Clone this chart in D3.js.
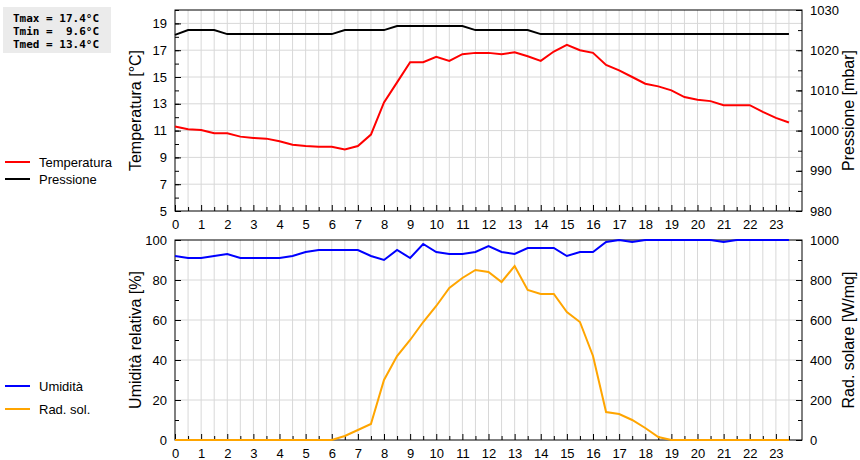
<!DOCTYPE html><html><head><meta charset="utf-8"><script src="https://cdn.jsdelivr.net/npm/d3@7"></script>
<style>body{margin:0;background:#fff}svg{font-family:"Liberation Sans",Arial,sans-serif}</style></head><body><svg id="c" width="860" height="460"></svg>
<script>
const hours = d3.range(0, 24, 0.5);
const temperatura = [11.3,11.1,11.05,10.8,10.8,10.55,10.45,10.4,10.2,9.95,9.85,9.8,9.8,9.6,9.85,10.7,13.1,14.6,16.1,16.1,16.5,16.2,16.7,16.8,16.8,16.7,16.85,16.55,16.2,16.9,17.4,17.0,16.8,15.9,15.5,15.0,14.5,14.3,14.0,13.5,13.3,13.2,12.9,12.9,12.9,12.4,11.95,11.6];
const pressione = [1023.8,1025,1025,1025,1024,1024,1024,1024,1024,1024,1024,1024,1024,1025,1025,1025,1025,1026,1026,1026,1026,1026,1026,1025,1025,1025,1025,1025,1024,1024,1024,1024,1024,1024,1024,1024,1024,1024,1024,1024,1024,1024,1024,1024,1024,1024,1024,1024];
const umidita = [92,91,91,92,93,91,91,91,91,92,94,95,95,95,95,92,90,95,91,98,94,93,93,94,97,94,93,96,96,96,92,94,94,99,100,99,100,100,100,100,100,100,99,100,100,100,100,100];
const radsol = [0,0,0,0,0,0,0,0,0,0,0,0,0,20,50,80,300,420,500,590,670,760,810,850,840,790,870,750,730,730,640,590,420,140,130,100,60,15,0,0,0,0,0,0,0,0,0,0];
const tempTicks = [5,7,9,11,13,15,17,19];
const pressTicks = [980,990,1000,1010,1020,1030];
const humTicks = [0,20,40,60,80,100];
const radTicks = [0,200,400,600,800,1000];
const stats = ["Tmax = 17.4°C","Tmin =  9.6°C","Tmed = 13.4°C"];

const svg = d3.select("#c");
const L=175, R=802;
const x = d3.scaleLinear().domain([0,24]).range([L,R]);
const xTicks = d3.range(0,24);
const xMinor = d3.range(0,24.01,0.5);

function panel(y0,y1,lDom,rDom,lTicks,rTicks,lMinor,rMinor,lLabel,rLabel,series){
  const yl=d3.scaleLinear().domain(lDom).range([y1,y0]);
  const yr=d3.scaleLinear().domain(rDom).range([y1,y0]);
  const g=svg.append("g");
  g.selectAll(".vg").data(xMinor.slice(1,-1)).join("line").attr("x1",x).attr("x2",x).attr("y1",y0).attr("y2",y1).attr("stroke","#d8d8d8");
  g.selectAll(".hg").data(lTicks.filter(t=>t!==lDom[0]&&t!==lDom[1])).join("line").attr("x1",L).attr("x2",R).attr("y1",yl).attr("y2",yl).attr("stroke","#d8d8d8");
  g.append("g").attr("transform",`translate(0,${y1})`).call(d3.axisBottom(x).tickValues(xTicks).tickSize(6).tickFormat(d3.format("d"))).call(a=>{a.select(".domain").remove();a.selectAll(".tick line").attr("y1",-6).attr("y2",0);});
  g.append("g").attr("transform",`translate(0,${y1})`).call(d3.axisBottom(x).tickValues(xMinor.filter(v=>v%1)).tickSize(0).tickFormat("")).call(a=>{a.select(".domain").remove();a.selectAll(".tick line").attr("y1",-4).attr("y2",0);});
  g.append("g").attr("transform",`translate(${L},0)`).call(d3.axisLeft(yl).tickValues(lTicks).tickSize(6).tickFormat(d3.format("d"))).call(a=>{a.select(".domain").remove();a.selectAll(".tick line").attr("x1",0).attr("x2",6);a.selectAll("text").attr("x",-8);});
  g.append("g").attr("transform",`translate(${L},0)`).call(d3.axisLeft(yl).tickValues(lMinor).tickSize(0).tickFormat("")).call(a=>{a.select(".domain").remove();a.selectAll(".tick line").attr("x1",0).attr("x2",4);});
  g.append("g").attr("transform",`translate(${R},0)`).call(d3.axisRight(yr).tickValues(rTicks).tickSize(6).tickFormat(d3.format("d"))).call(a=>{a.select(".domain").remove();a.selectAll(".tick line").attr("x1",-6).attr("x2",0);a.selectAll("text").attr("x",8);});
  g.append("g").attr("transform",`translate(${R},0)`).call(d3.axisRight(yr).tickValues(rMinor).tickSize(0).tickFormat("")).call(a=>{a.select(".domain").remove();a.selectAll(".tick line").attr("x1",-4).attr("x2",0);});
  g.selectAll(".tick text").attr("font-size",13).attr("fill","#000").attr("font-family","Liberation Sans, Arial");
  g.selectAll(".tick line").attr("stroke","#000");
  g.append("rect").attr("x",L).attr("y",y0).attr("width",R-L).attr("height",y1-y0).attr("fill","none").attr("stroke","#000");
  series.forEach(s=>{
    const ys = s.axis==="l"?yl:yr;
    g.append("path").datum(s.data).attr("fill","none").attr("stroke",s.color).attr("stroke-width",2)
     .attr("d",d3.line().x((d,i)=>x(hours[i])).y(d=>ys(d)));
  });
  const mid=(y0+y1)/2;
  g.append("text").attr("transform",`translate(141,${mid}) rotate(-90)`).attr("text-anchor","middle").attr("font-size",16).text(lLabel);
  g.append("text").attr("transform",`translate(854,${mid}) rotate(-90)`).attr("text-anchor","middle").attr("font-size",16).text(rLabel);
}
panel(10,211,[5,20],[980,1030],tempTicks,pressTicks,d3.range(5,21,1),d3.range(980,1031,5),"Temperatura [°C]","Pressione [mbar]",
  [{data:pressione,axis:"r",color:"#000"},{data:temperatura,axis:"l",color:"#f00"}]);
panel(240,440,[0,100],[0,1000],humTicks,radTicks,d3.range(0,101,10),d3.range(0,1001,100),"Umidità relativa [%]","Rad. solare [W/mq]",
  [{data:radsol,axis:"r",color:"#ffa500"},{data:umidita,axis:"l",color:"#00f"}]);

const legends=[{y:162,c:"#f00",t:"Temperatura"},{y:179,c:"#000",t:"Pressione"},{y:386,c:"#00f",t:"Umidità"},{y:409,c:"#ffa500",t:"Rad. sol."}];
legends.forEach(l=>{svg.append("line").attr("x1",5).attr("x2",30).attr("y1",l.y).attr("y2",l.y).attr("stroke",l.c).attr("stroke-width",2);
 svg.append("text").attr("x",39).attr("y",l.y+5).attr("font-size",13).text(l.t);});
svg.append("rect").attr("x",3).attr("y",7).attr("width",108).attr("height",46).attr("fill","#ebebeb");
stats.forEach((s,i)=>svg.append("text").attr("x",13).attr("y",22+i*13).attr("font-family","DejaVu Sans Mono, monospace").attr("font-weight","bold").attr("font-size",11).attr("xml:space","preserve").style("white-space","pre").text(s));
</script></body></html>
